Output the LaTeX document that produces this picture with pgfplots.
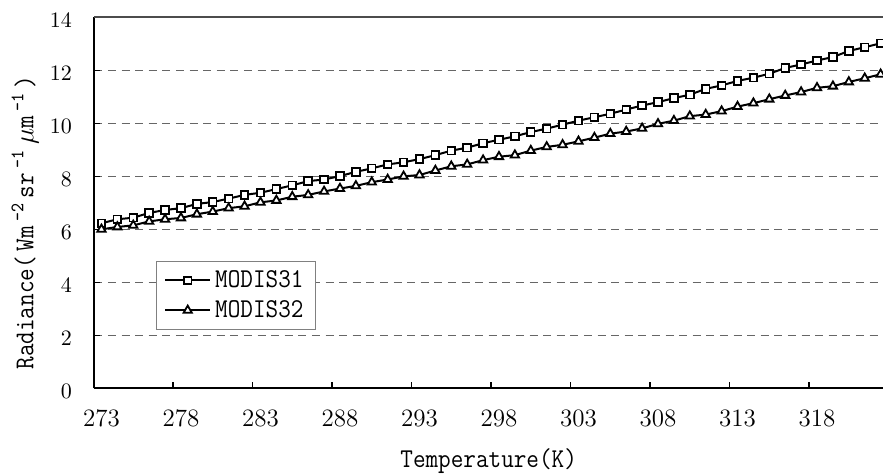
\documentclass[border=0pt]{standalone}
\usepackage{fix-cm}
\usepackage{fontspec}
\usepackage{pgfplots}
\usepackage{pgfplotstable}
\pgfplotsset{compat=1.18}
\newfontfamily\monof[FakeStretch=0.9]{Latin Modern Mono}
\newcommand\lblfont{\monof\fontsize{13.6}{15.5}\selectfont}

% radiance vs. temperature
\pgfplotstableread{
T   M31   M32
273 6.23  6.00
274 6.38  6.09
275 6.44  6.15
276 6.62  6.30
277 6.73  6.38
278 6.80  6.43
279 6.96  6.57
280 7.03  6.67
281 7.16  6.80
282 7.30  6.87
283 7.38  7.02
284 7.52  7.09
285 7.66  7.23
286 7.82  7.30
287 7.88  7.43
288 8.01  7.54
289 8.17  7.64
290 8.30  7.78
291 8.45  7.88
292 8.53  8.00
293 8.65  8.05
294 8.80  8.22
295 8.97  8.38
296 9.08  8.45
297 9.25  8.61
298 9.38  8.74
299 9.51  8.80
300 9.67  8.97
301 9.80  9.11
302 9.95  9.19
303 10.10 9.32
304 10.23 9.46
305 10.36 9.61
306 10.52 9.69
307 10.67 9.81
308 10.80 9.98
309 10.95 10.10
310 11.08 10.27
311 11.30 10.33
312 11.43 10.46
313 11.60 10.63
314 11.72 10.76
315 11.87 10.91
316 12.09 11.05
317 12.22 11.18
318 12.37 11.34
319 12.50 11.40
320 12.73 11.56
321 12.87 11.70
322 13.02 11.85
}\radtab

\begin{document}
\begin{tikzpicture}
\begin{axis}[
  name=ax,
  scale only axis,
  width=394.35pt, height=185.55pt,
  xmin=272.55, xmax=322.15,
  ymin=0, ymax=14,
  xtick={273,278,...,318},
  minor xtick={277.5,282.5,...,317.5},
  ytick={0,2,...,14},
  axis x line*=bottom, axis y line*=left,
  axis line style={black, line width=1pt},
  tick align=inside,
  every major x tick/.append style={draw opacity=0},
  major tick length=3pt, minor tick length=3.3pt,
  tick style={black, line width=0.6pt},
  ymajorgrids,
  grid style={gray!80!black, line width=0.6pt, dash pattern=on 4pt off 2.8pt},
  x tick label style={font=\fontsize{12.5}{14}\selectfont, anchor=base, yshift=-19pt},
  y tick label style={font=\fontsize{11}{13}\selectfont, anchor=east, inner sep=0pt, xshift=-11pt, yshift=-1.5pt},
  xlabel={Temperature(K)},
  xlabel style={at={([yshift=-39.5pt]axis description cs:0.5,0)}, anchor=base, font=\lblfont},
  ylabel={Radiance(\,Wm\,\textsuperscript{-2}\,sr\,\textsuperscript{-1}\,$\mu$m\,\textsuperscript{-1}\,)},
  ylabel style={at={([xshift=-30.5pt]axis description cs:0,0.447)}, anchor=base, rotate=0, font=\lblfont},
  legend style={at={(0.078,0.343)}, anchor=north west, draw=gray, font=\lblfont,
    inner xsep=4pt, inner ysep=2.5pt, row sep=1pt},
  legend cell align=left,
  legend image code/.code={\draw[mark repeat=2, mark phase=2] plot coordinates {(0pt,0pt) (11.25pt,0pt) (22.5pt,0pt)};},
]
\addplot[black, line width=1pt, mark=square*, mark size=1.9pt,
  mark options={fill=white, line width=0.9pt, solid}] table[x=T, y=M31] {\radtab};
\addlegendentry{MODIS31}
\addplot[black, line width=1pt, mark=triangle*, mark size=2.4pt,
  mark options={fill=white, line width=0.9pt, solid}] table[x=T, y=M32] {\radtab};
\addlegendentry{MODIS32}
\end{axis}
\draw[gray!60!black, line width=1pt] (ax.north west) -- (ax.north east);
\pgfresetboundingbox
\path ([shift={(-47.15pt,-43.8pt)}]ax.south west) rectangle ([shift={(0pt,8.65pt)}]ax.north east);
\end{tikzpicture}
\end{document}
